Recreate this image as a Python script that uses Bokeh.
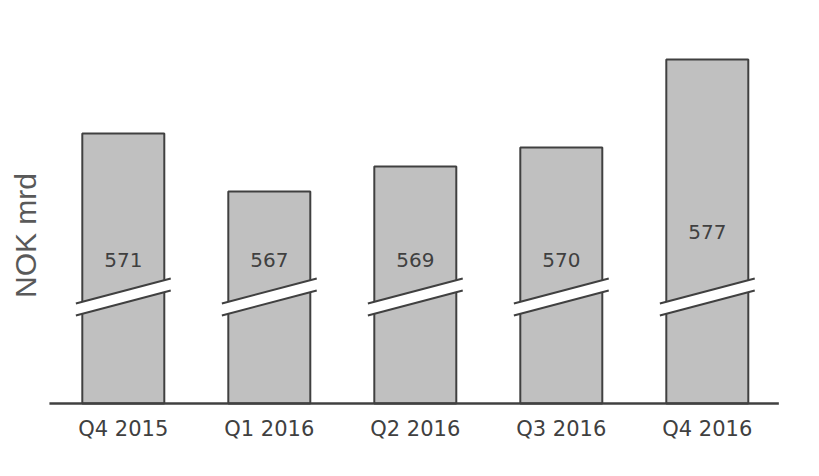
import math
from bokeh.plotting import figure
from bokeh.models import Range1d, FixedTicker
from bokeh.core.properties import value
from bokeh.embed import file_html
from bokeh.resources import INLINE

# Data
categories = ["Q4 2015", "Q1 2016", "Q2 2016", "Q3 2016", "Q4 2016"]
values = [571, 567, 569, 570, 577]          # NOK mrd (labels)
drawn_heights = [270, 212, 237, 256, 344]    # bar heights on the broken axis (display units)
label_levels = [144, 144, 144, 144, 172]     # where the value labels sit

W, H = 803, 460
UNIT = 146.0
x0 = -122.8 / UNIT

p = figure(width=W, height=H, output_backend="svg", toolbar_location=None,
           x_range=Range1d(x0, x0 + W / UNIT), y_range=Range1d(-3, 403),
           y_axis_location=None, min_border_left=0, min_border_right=0,
           min_border_top=0, min_border_bottom=54)
p.outline_line_color = None
p.grid.visible = False
p.background_fill_color = "white"
p.border_fill_color = "white"

xs = list(range(len(categories)))

ax = p.xaxis[0]
ax.ticker = FixedTicker(ticks=xs)
ax.major_label_overrides = {i: c for i, c in enumerate(categories)}
ax.axis_line_color = None
ax.major_tick_line_color = None
ax.minor_tick_line_color = None
ax.major_label_standoff = 4
ax.major_label_text_font = "DejaVu Sans"
ax.major_label_text_font_size = "21px"
ax.major_label_text_color = "#404040"

p.vbar(x=xs, top=drawn_heights, bottom=0, width=0.5616,
       fill_color="#c0c0c0", line_color="#404040", line_width=2)

# axis baseline
p.segment(x0=[-0.506], y0=[0], x1=[4.49], y1=[0], line_color="#404040", line_width=2.5)

# break marks
hw = 0.325
p.patches(xs=[[i - hw, i + hw, i + hw, i - hw] for i in xs],
          ys=[[88, 113, 125, 100] for _ in xs],
          fill_color="white", line_color=None)
p.segment(x0=[i - hw for i in xs], y0=[100] * 5, x1=[i + hw for i in xs], y1=[125] * 5,
          line_color="#404040", line_width=2)
p.segment(x0=[i - hw for i in xs], y0=[88] * 5, x1=[i + hw for i in xs], y1=[113] * 5,
          line_color="#404040", line_width=2)

# value labels
p.text(x=xs, y=label_levels, text=[str(v) for v in values],
       text_align="center", text_baseline="middle",
       text_font=value("DejaVu Sans"), text_font_size="20px", text_color="#404040")

# y-axis title
p.text(x=[(25 - 122.8) / UNIT], y=[168], text=["NOK mrd"], angle=math.pi / 2,
       text_align="center", text_baseline="middle",
       text_font=value("Liberation Sans"), text_font_size="30px", text_color="#595959")

open("out.html", "w").write(file_html(p, INLINE))
